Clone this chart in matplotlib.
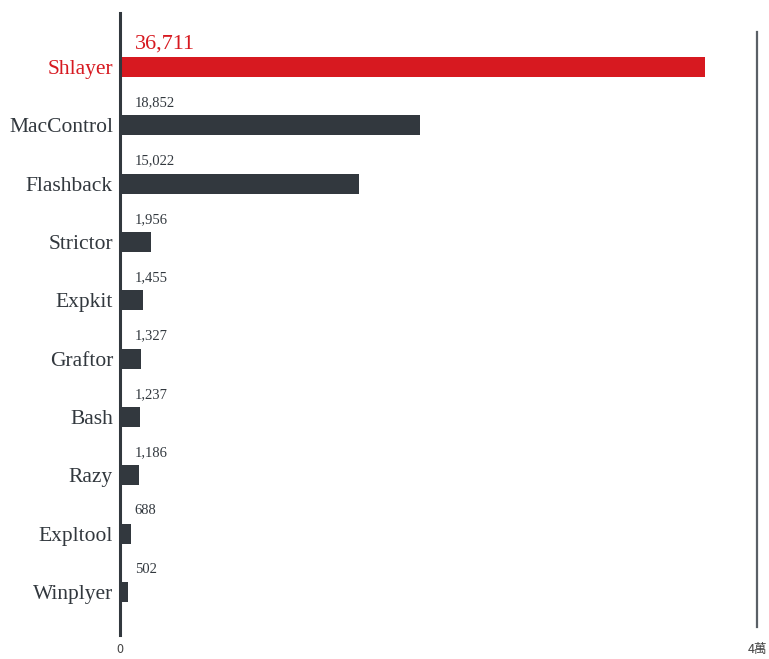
import matplotlib
matplotlib.use('Agg')
import matplotlib.pyplot as plt

# Datos
familias = ['Shlayer', 'MacControl', 'Flashback', 'Strictor', 'Expkit',
            'Graftor', 'Bash', 'Razy', 'Expltool', 'Winplyer']
valores = [36711, 18852, 15022, 1956, 1455, 1327, 1237, 1186, 688, 502]
xmax = 40000
tick_vals = [0, 40000]
tick_txt = ['0', '4萬']

rojo = '#d71920'
oscuro = '#32383e'
serif = ['Liberation Serif', 'DejaVu Serif']

fig = plt.figure(figsize=(7.69, 6.59), dpi=100)
ax = fig.add_axes([120 / 769, (659 - 635) / 659, (757 - 120) / 769, 622 / 659])

y = list(range(len(familias)))
colores = [rojo if i == 0 else oscuro for i in y]
ax.barh(y, valores, height=0.34, color=colores, zorder=2)

for i, v in enumerate(valores):
    destacado = i == 0
    ax.text(xmax * 0.023, i - 0.39, f'{v:,}', ha='left', va='center',
            fontsize=16 if destacado else 10.5,
            color=rojo if destacado else oscuro, family=serif)

ax.set_ylim(9.737, -0.926)
ax.set_xlim(0, xmax)
ax.set_yticks(y)
ax.set_yticklabels(familias, family=serif, fontsize=15.5)
for i, lab in enumerate(ax.get_yticklabels()):
    lab.set_color(rojo if i == 0 else oscuro)

ax.set_xticks(tick_vals)
ax.set_xticklabels(tick_txt, family=['Noto Sans CJK TC', 'DejaVu Sans'],
                   fontsize=9, color='#444444')
ax.tick_params(axis='both', length=0)
ax.tick_params(axis='x', pad=6)
ax.tick_params(axis='y', pad=5)

for s in ['top', 'right', 'bottom']:
    ax.spines[s].set_visible(False)
ax.spines['left'].set_color(oscuro)
ax.spines['left'].set_linewidth(2.2)
ax.spines['left'].set_zorder(3)

ax.axvline(xmax, ymin=0.013, ymax=0.969, color='#5a6066', linewidth=1.6,
           clip_on=False)

fig.savefig('out.png', dpi=100)
